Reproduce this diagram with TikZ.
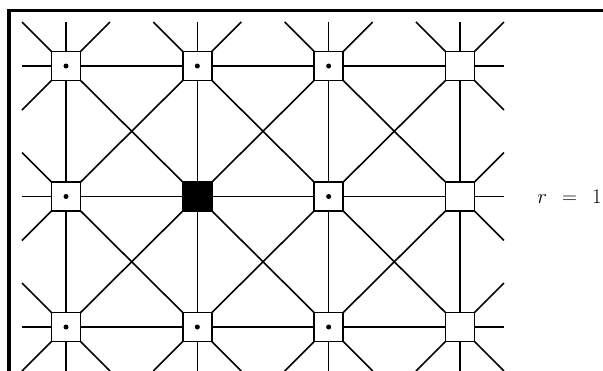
\documentclass[tikz,border=0pt]{standalone}
\begin{document}
\begin{tikzpicture}[x=1pt,y=1pt,
  cell/.style={draw,line width=1.8pt,fill=white,minimum size=29pt,inner sep=0pt,outer sep=0pt},
  solid cell/.style={cell,fill=black},
  edge/.style={line width=1.6pt},
  frame/.style={line width=3.5pt},
  dotmark/.style={circle,fill=black,minimum size=5pt,inner sep=0pt}]
\useasboundingbox (0,0) rectangle (603,-370);
% frame
\draw[frame] (9,-372) -- (9,-10.5) -- (605,-10.5);
% nodes
\foreach \i in {0,...,3}{
  \foreach \j in {0,...,2}{
    \node[cell] (n\i\j) at ({66+\i*131.33},{-66-\j*130.5}) {};
  }
}
% connectors between nodes
\foreach \i [evaluate=\i as \ii using int(\i+1)] in {0,...,2}{
  \foreach \j in {0,...,2}{
    \draw[edge] (n\i\j) -- (n\ii\j);
  }
  \foreach \j [evaluate=\j as \jj using int(\j+1)] in {0,...,1}{
    \draw[edge] (n\i\j) -- (n\ii\jj);
    \draw[edge] (n\i\jj) -- (n\ii\j);
  }
}
\foreach \i in {0,...,3}{
  \foreach \j [evaluate=\j as \jj using int(\j+1)] in {0,...,1}{
    \draw[edge] (n\i\j) -- (n\i\jj);
  }
}
% stubs at the border of the lattice
\foreach \i in {0,...,3}{
  \foreach \j in {0,...,2}{
    \foreach \dx/\dy [count=\k] in {1/0,1/1,0/1,-1/1,-1/0,-1/-1,0/-1,1/-1}{
      \pgfmathtruncatemacro\ni{\i+\dx}
      \pgfmathtruncatemacro\nj{\j+\dy}
      \pgfmathtruncatemacro\isout{or(or(\ni<0,\ni>3),or(\nj<0,\nj>2))}
      \ifnum\isout=1
        \path (n\i\j) ++({44*\dx},{-44*\dy}) coordinate (s\i\j\k);
        \draw[edge] (n\i\j) -- (s\i\j\k);
      \fi
    }
  }
}
% redraw squares on top
\foreach \i in {0,...,3}{
  \foreach \j in {0,...,2}{
    \node[cell] at (n\i\j) {};
  }
}
% dots
\foreach \i in {0,1,2}{
  \foreach \j in {0,1,2}{
    \node[dotmark] (d\i\j) at (n\i\j) {};
  }
}
\node[solid cell] (c) at (n11) {};
% label
\node[inner sep=0pt] (lab) at (569.5,-197) {\fontsize{20}{24}\selectfont $r\mkern8mu=\mkern8mu1$};
\end{tikzpicture}
\end{document}
